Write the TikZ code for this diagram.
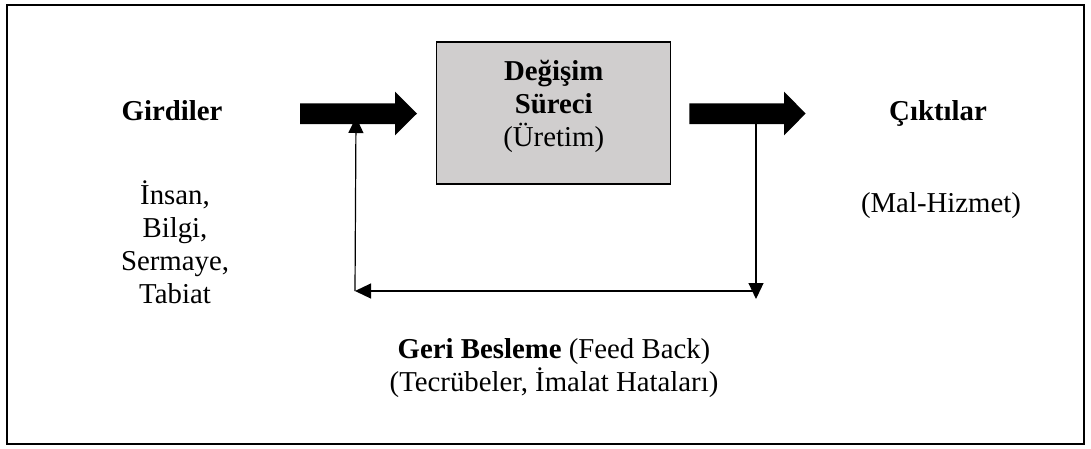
\documentclass[tikz,border=0pt]{standalone}
\usepackage{fontspec}
\setmainfont{Liberation Serif}
\usetikzlibrary{arrows.meta}
\definecolor{boxgray}{RGB}{208,206,206}
% centred lines stacked on a fixed baseline distance; the box baseline is the first line
\newcommand\mystack[2]{\vtop{\baselineskip=#1\lineskiplimit=-16000pt\lineskip=0pt
  \halign{\hfil##\hfil\cr #2\crcr}}}
\begin{document}
\begin{tikzpicture}[x=1pt,y=-1pt,
  lbl/.style={anchor=base, inner sep=0pt, font=\fontsize{28.8}{33}\selectfont},
  fbline/.style={line width=1.2pt, -{Triangle[length=16pt,width=15pt]}},
  bigarrow/.style={fill=black},
  procbox/.style={draw, fill=boxgray, line width=1.4pt, inner sep=0pt,
    minimum width=234pt, minimum height=142pt}]
\useasboundingbox (0,0) rectangle (1091,448);
% frame
\draw[line width=2pt] (7,5) rectangle (1084,444);

% process box
\node[procbox] (proc) at (553.7,113) {};
\node[lbl] (proclabel) at (553.7,80)
  {\mystack{33pt}{\bfseries Değişim\cr \bfseries Süreci\cr (Üretim)}};

% inputs and outputs
\node[lbl] (girdiler) at (172,120) {\bfseries Girdiler};
\node[lbl] (inputs) at (175,204) {\mystack{33pt}{İnsan,\cr Bilgi,\cr Sermaye,\cr Tabiat}};
\node[lbl] (ciktilar) at (938,120) {\bfseries Çıktılar};
\node[lbl] (outputs) at (941,212) {(Mal-Hizmet)};

% feedback label
\node[lbl] (feedback) at (554,358)
  {\mystack{33pt}{\textbf{Geri Besleme} (Feed Back)\cr (Tecrübeler, İmalat Hataları)}};

% feedback loop
\coordinate (inL) at (356,117);
\coordinate (outR) at (756,115);
\coordinate (fbL) at (355,291);
\coordinate (fbR) at (756,291);
\coordinate (fbRtip) at (756,299);
\draw[fbline] (outR) -- (fbRtip);
\draw[fbline] (fbR) -- (fbL);
\draw[fbline] (fbL) -- (inL);

% thick flow arrows
\fill[bigarrow] (300,103.3) -- (395,103.3) -- (395,91.7) -- (417,113.5)
  -- (395,135.3) -- (395,124) -- (300,124) -- cycle;
\fill[bigarrow] (689.3,103.3) -- (784,103.3) -- (784,91.7) -- (805.7,113.5)
  -- (784,135.3) -- (784,124) -- (689.3,124) -- cycle;
\end{tikzpicture}
\end{document}
